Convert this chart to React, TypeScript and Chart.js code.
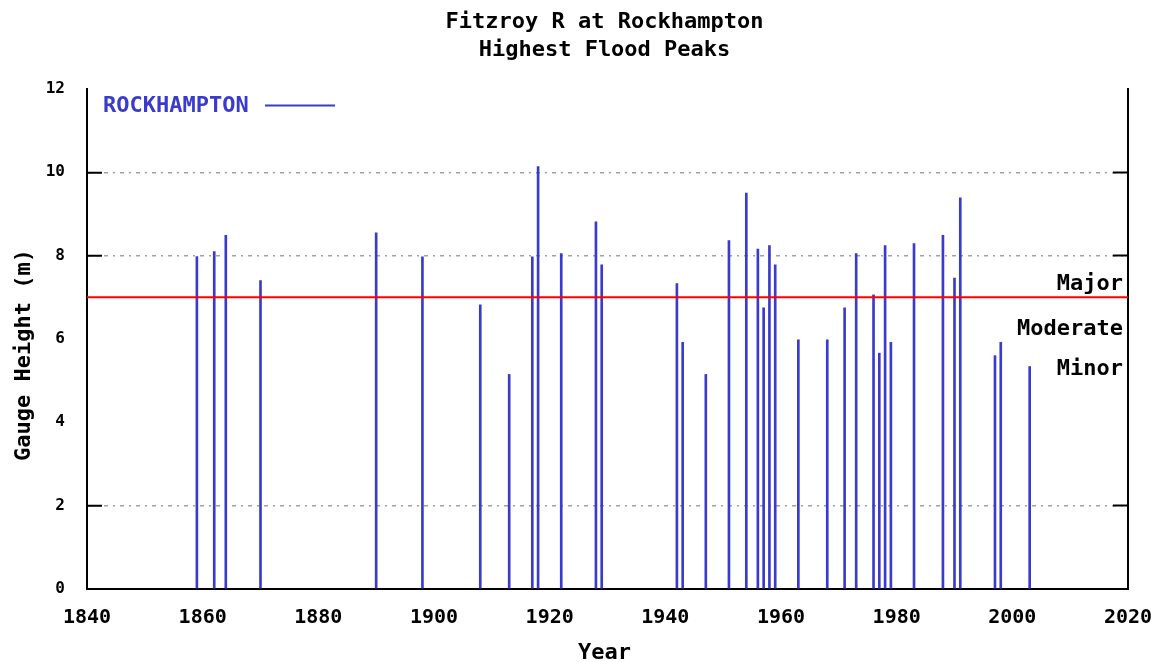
import React, { useEffect, useRef } from 'react';
import { Chart, registerables } from 'chart.js';

Chart.register(...registerables);

// ---- data ----
const years = [
  1859, 1862, 1864, 1870, 1890, 1898, 1908, 1913, 1917, 1918, 1922, 1928, 1929,
  1942, 1943, 1947, 1951, 1954, 1956, 1957, 1958, 1959, 1963, 1968, 1971, 1973,
  1976, 1977, 1978, 1979, 1983, 1988, 1990, 1991, 1997, 1998, 2003,
];
const heights = [
  7.98, 8.1, 8.49, 7.4, 8.55, 7.97, 6.82, 5.15, 7.97, 10.14, 8.05, 8.81, 7.78,
  7.33, 5.92, 5.15, 8.36, 9.5, 8.16, 6.75, 8.24, 7.78, 5.98, 5.98, 6.75, 8.05,
  7.06, 5.66, 8.24, 5.92, 8.29, 8.49, 7.46, 9.39, 5.6, 5.92, 5.34,
];
const majorLevel = 7;
const xTicks = [1840, 1860, 1880, 1900, 1920, 1940, 1960, 1980, 2000, 2020];
const yTicks = [0, 2, 4, 6, 8, 10, 12];
const gridValues = [2, 8, 10];
const titleLines = ['Fitzroy R at Rockhampton', 'Highest Flood Peaks'];
const seriesName = 'ROCKHAMPTON';
const xTitle = 'Year';
const yTitle = 'Gauge Height (m)';
const levelLabels = ['Major', 'Moderate', 'Minor'];
const levelLabelValues = [7.17, 6.1, 5.14];

const MONO = '"DejaVu Sans Mono", monospace';
const BLUE = '#3a3acc';

const textPlugin = {
  id: 'gnuText',
  afterDraw(chart: any) {
    const { ctx, chartArea, scales } = chart;
    ctx.save();
    ctx.fillStyle = '#000';
    ctx.font = `bold 22px ${MONO}`;
    ctx.textAlign = 'center';
    ctx.textBaseline = 'alphabetic';
    const cx = (chartArea.left + chartArea.right) / 2 - 3;
    ctx.fillText(titleLines[0], cx, 28);
    ctx.fillText(titleLines[1], cx, 56);
    ctx.fillText(xTitle, cx, 659);
    ctx.save();
    ctx.translate(30, 355);
    ctx.rotate(-Math.PI / 2);
    ctx.fillText(yTitle, 0, 0);
    ctx.restore();
    ctx.textAlign = 'right';
    levelLabels.forEach((t, i) => {
      ctx.fillText(t, chartArea.right - 5, scales.y.getPixelForValue(levelLabelValues[i]));
    });
    ctx.fillStyle = BLUE;
    ctx.textAlign = 'left';
    ctx.fillText(seriesName, chartArea.left + 16, 112);
    ctx.strokeStyle = BLUE;
    ctx.lineWidth = 2;
    ctx.beginPath();
    ctx.moveTo(265, 105.5);
    ctx.lineTo(335, 105.5);
    ctx.stroke();
    ctx.restore();
  },
};

const sel = (on: string) => (c: any) =>
  c.tick && gridValues.includes(c.tick.value) ? on : 'rgba(0,0,0,0)';

const noPad = (s: any) => {
  s.paddingLeft = 0;
  s.paddingRight = 0;
  s.paddingTop = 0;
  s.paddingBottom = 0;
};

export default function App() {
  const ref = useRef<HTMLCanvasElement>(null);
  useEffect(() => {
    if (!ref.current) return;
    const chart = new Chart(ref.current, {
      type: 'bar',
      data: {
        datasets: [
          {
            type: 'line',
            label: 'Major',
            data: [
              { x: xTicks[0], y: majorLevel },
              { x: xTicks[xTicks.length - 1], y: majorLevel },
            ],
            borderColor: '#ff0000',
            borderWidth: 2,
            pointRadius: 0,
            order: 0,
          } as any,
          {
            type: 'bar',
            label: seriesName,
            data: years.map((x, i) => ({ x, y: heights[i] })),
            backgroundColor: BLUE,
            barThickness: 2,
            order: 1,
          } as any,
        ],
      },
      options: {
        animation: false,
        responsive: false,
        devicePixelRatio: 1,
        layout: { padding: { top: 89, left: 0, right: 0, bottom: 0 } },
        plugins: { legend: { display: false }, title: { display: false }, tooltip: { enabled: false } },
        scales: {
          x: {
            type: 'linear',
            min: 1840,
            max: 2020,
            offset: false,
            afterBuildTicks: (s: any) => {
              s.ticks = xTicks.map((v) => ({ value: v }));
            },
            afterFit: (s: any) => {
              s.height = 73;
              noPad(s);
            },
            ticks: {
              callback: (v: any) => String(v),
              font: { family: MONO, size: 20, weight: 'bold' },
              color: '#000',
              padding: 9,
              maxRotation: 0,
              autoSkip: false,
            },
            grid: { display: false },
            border: { display: true, color: '#000', width: 2 },
          },
          y: {
            type: 'linear',
            min: 0,
            max: 12,
            afterBuildTicks: (s: any) => {
              s.ticks = yTicks.map((v) => ({ value: v }));
            },
            afterFit: (s: any) => {
              s.width = 87;
              noPad(s);
            },
            ticks: {
              callback: (v: any) => String(v),
              font: { family: MONO, size: 16, weight: 'bold' },
              color: '#000',
              padding: 37,
            },
            grid: {
              color: sel('#a0a0a0'),
              lineWidth: 1.5,
              drawTicks: true,
              tickLength: -15,
              tickColor: sel('#000'),
              tickWidth: 2,
            },
            border: { display: true, color: '#000', width: 2, dash: [4, 5, 2, 5] },
          },
          y2: {
            type: 'linear',
            position: 'right',
            min: 0,
            max: 12,
            afterBuildTicks: (s: any) => {
              s.ticks = yTicks.map((v) => ({ value: v }));
            },
            afterFit: (s: any) => {
              s.width = 23;
              noPad(s);
            },
            ticks: { display: false },
            grid: {
              drawOnChartArea: false,
              drawTicks: true,
              tickLength: -15,
              tickColor: sel('#000'),
              tickWidth: 2,
            },
            border: { display: true, color: '#000', width: 2 },
          },
        },
      } as any,
      plugins: [textPlugin],
    });
    return () => chart.destroy();
  }, []);
  return (
    <div style={{ position: 'fixed', left: 0, top: 0, width: 1151, height: 662, background: '#fff' }}>
      <canvas ref={ref} width={1151} height={662} style={{ display: 'block' }} />
    </div>
  );
}
